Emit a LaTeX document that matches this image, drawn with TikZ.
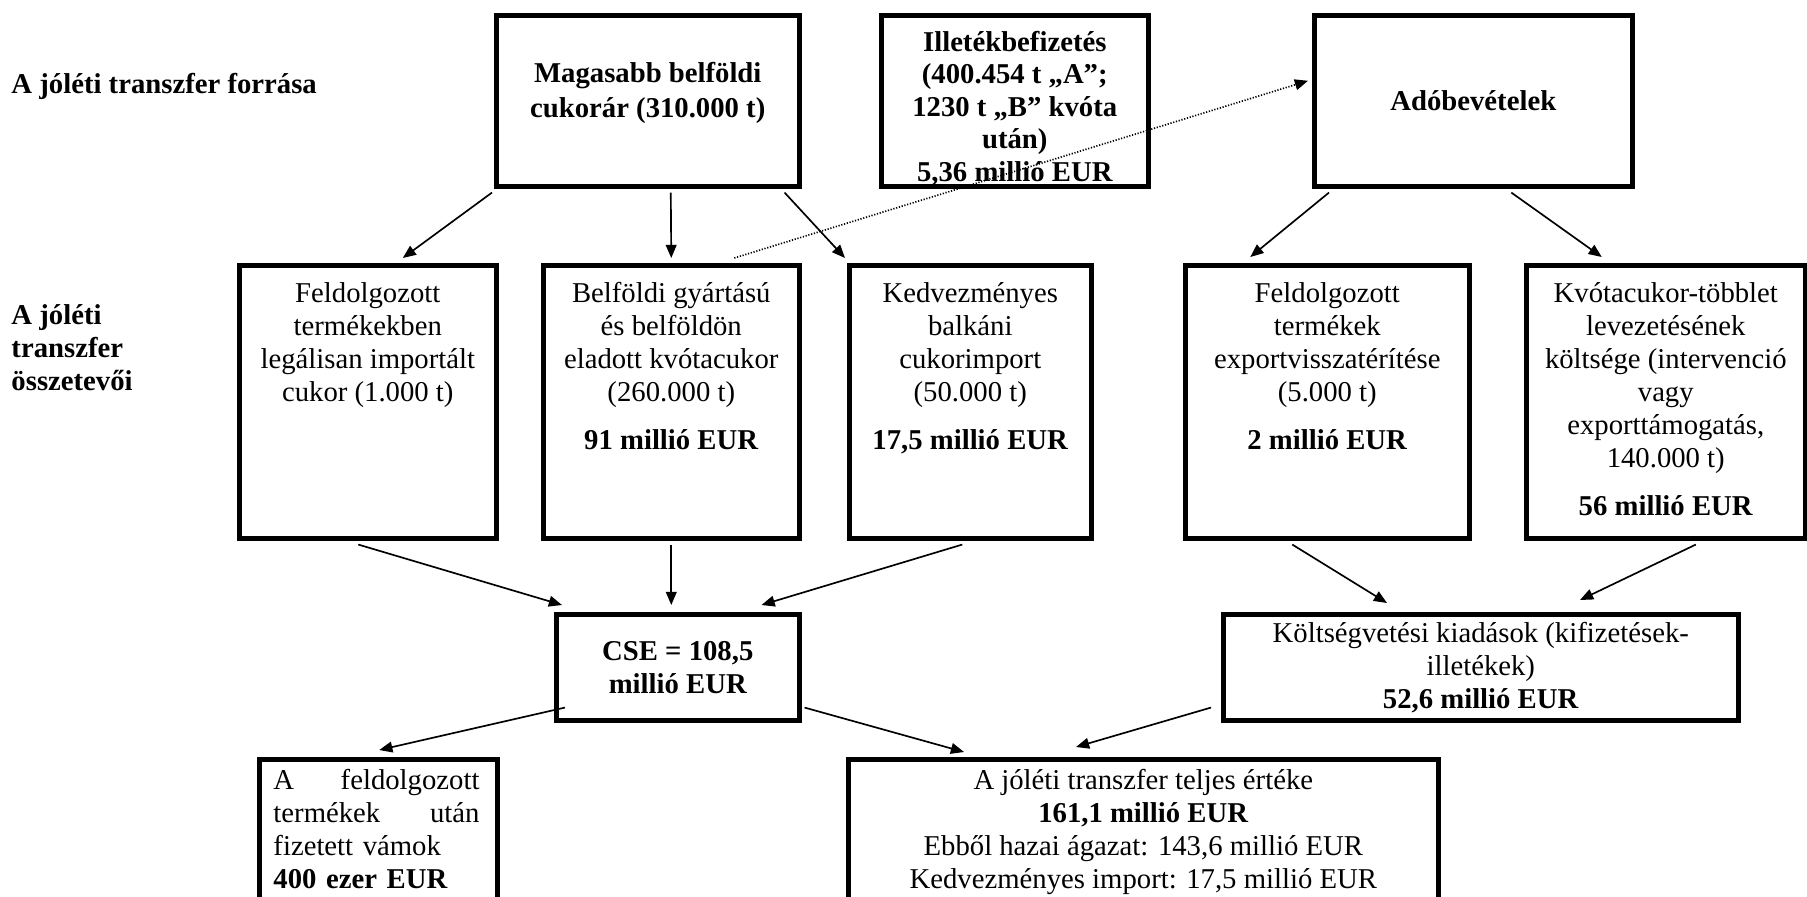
\documentclass[tikz,border=0pt]{standalone}
\usepackage{fontspec}
\setmainfont{Liberation Serif}
\usetikzlibrary{arrows.meta,calc}
\newlength\px
\setlength\px{0.418pt}
\begin{document}
\begin{tikzpicture}[x=0.418pt,y=-0.418pt,
  frame/.style={draw, line width=1.9pt, inner sep=0pt, anchor=north west},
  txt/.style={inner sep=0pt, font=\fontsize{12pt}{13.8pt}\selectfont, align=center},
  btxt/.style={txt, font=\fontsize{12pt}{13.8pt}\selectfont\bfseries},
  link/.style={line width=0.7pt, -{Triangle[length=5.5pt,width=4.5pt]}},
  hint/.style={link, dash pattern=on 0.5pt off 0.7pt},
]
\useasboundingbox (0,0) rectangle (1807,896);

% row labels
\node[btxt, anchor=base west] (lab1) at (11,93) {A jóléti transzfer forrása};
\node[btxt, align=left, anchor=north west] (lab2) at (11,301)
  {\strut A jóléti\\ transzfer\\ összetevői};

% sources
\node[frame, minimum width=303\px, minimum height=171\px] (mag) at (494,13) {};
\node[btxt, font=\fontsize{12pt}{14.6pt}\selectfont\bfseries] (magt) at ($(mag.center)+(0,-8)$)
  {Magasabb belföldi\\ cukorár (310.000 t)};
\node[frame, minimum width=267\px, minimum height=171\px] (ill) at (879,13) {};
\node[btxt, anchor=north, font=\fontsize{12pt}{13.6pt}\selectfont\bfseries] (illt) at ($(ill.north)+(0,15)$)
  {\strut Illetékbefizetés\\ (400.454 t „A”;\\ 1230 t „B” kvóta\\ után)\\ 5,36 millió EUR};
\node[frame, minimum width=318\px, minimum height=171\px] (ado) at (1312,13) {};
\node[btxt] (adot) at (ado.center) {Adóbevételek};

% components
\node[frame, minimum width=257\px, minimum height=273\px] (b1) at (237,263) {};
\node[txt, anchor=north] (b1t) at ($(b1.north)+(0,16)$)
  {\strut Feldolgozott\\ termékekben\\ legálisan importált\\ cukor (1.000 t)};
\node[frame, minimum width=256\px, minimum height=273\px] (b2) at (541,263) {};
\node[txt, anchor=north] (b2t) at ($(b2.north)+(0,16)$)
  {\strut Belföldi gyártású\\ és belföldön\\ eladott kvótacukor\\ (260.000 t)\\[6pt] \textbf{91 millió EUR}};
\node[frame, minimum width=242\px, minimum height=273\px] (b3) at (847,263) {};
\node[txt, anchor=north] (b3t) at ($(b3.north)+(0,16)$)
  {\strut Kedvezményes\\ balkáni\\ cukorimport\\ (50.000 t)\\[6pt] \textbf{17,5 millió EUR}};
\node[frame, minimum width=284\px, minimum height=273\px] (b4) at (1183,263) {};
\node[txt, anchor=north] (b4t) at ($(b4.north)+(0,16)$)
  {\strut Feldolgozott\\ termékek\\ exportvisszatérítése\\ (5.000 t)\\[6pt] \textbf{2 millió EUR}};
\node[frame, minimum width=279\px, minimum height=273\px] (b5) at (1524,263) {};
\node[txt, anchor=north] (b5t) at ($(b5.north)+(0,16)$)
  {\strut Kvótacukor-többlet\\ levezetésének\\ költsége (intervenció\\ vagy\\ exporttámogatás,\\ 140.000 t)\\[6pt] \textbf{56 millió EUR}};

% sums
\node[frame, minimum width=243\px, minimum height=106\px] (cse) at (554,612) {};
\node[btxt] (cset) at (cse.center) {CSE = 108,5\\ millió EUR};
\node[frame, minimum width=515\px, minimum height=106\px] (kolt) at (1221,612) {};
\node[txt] (koltt) at (kolt.center)
  {Költségvetési kiadások (kifizetések-\\ illetékek)\\ \textbf{52,6 millió EUR}};

% results
\node[frame, minimum width=238\px, minimum height=143\px] (bl) at (257,757) {};
\node[txt, align=left, text width=206\px, anchor=north west] (blt) at ($(bl.north west)+(16,9)$)
  {\strut A\hfill feldolgozott\\ termékek\hfill után\\ fizetett vámok\\ \textbf{400 ezer EUR}};
\node[frame, minimum width=590\px, minimum height=143\px] (bm) at (846,757) {};
\node[txt, anchor=north] (bmt) at ($(bm.north)+(0,9)$)
  {\strut A jóléti transzfer teljes értéke\\ \textbf{161,1 millió EUR}\\ Ebből hazai ágazat: 143,6 millió EUR\\ Kedvezményes import: 17,5 millió EUR};

% connectors
\draw[link] ($(mag.south west)+(-2,4)$) -- ($(b1.north)+(35,-5)$);
\draw[link] ($(mag.south)+(23,4)$) -- ($(b2.north)+(0,-5)$);
\draw[link] ($(mag.south east)+(-17,4)$) -- ($(b3.north west)+(-2,-5)$);
\draw[link] ($(ado.south west)+(17,4)$) -- ($(b4.north)+(-77,-6)$);
\draw[link] ($(ado.south)+(38,4)$) -- ($(b5.north)+(-64,-6)$);
\draw[link] ($(b1.south)+(-9.5,4)$) -- ($(cse.north west)+(8,-7)$);
\draw[link] ($(b2.south)+(0,4)$) -- ($(cse.north)+(-6.5,-7)$);
\draw[link] ($(b3.south)+(-8,4)$) -- ($(cse.north east)+(-40,-7)$);
\draw[link] ($(b4.south)+(-35,4)$) -- ($(kolt.north west)+(166,-9)$);
\draw[link] ($(b5.south)+(30,4)$) -- ($(kolt.north west)+(359,-12)$);
\draw[link] ($(cse.south west)+(11,-15)$) -- ($(bl.north)+(1,-7)$);
\draw[link] ($(cse.south east)+(3,-15)$) -- ($(bm.north west)+(118,-5)$);
\draw[link] ($(kolt.south west)+(-10,-15)$) -- ($(bm.north west)+(230,-10)$);
\draw[hint] ($(b2.north)+(63,-5)$) -- ($(ado.west)+(-4,-20)$);
\end{tikzpicture}
\end{document}
